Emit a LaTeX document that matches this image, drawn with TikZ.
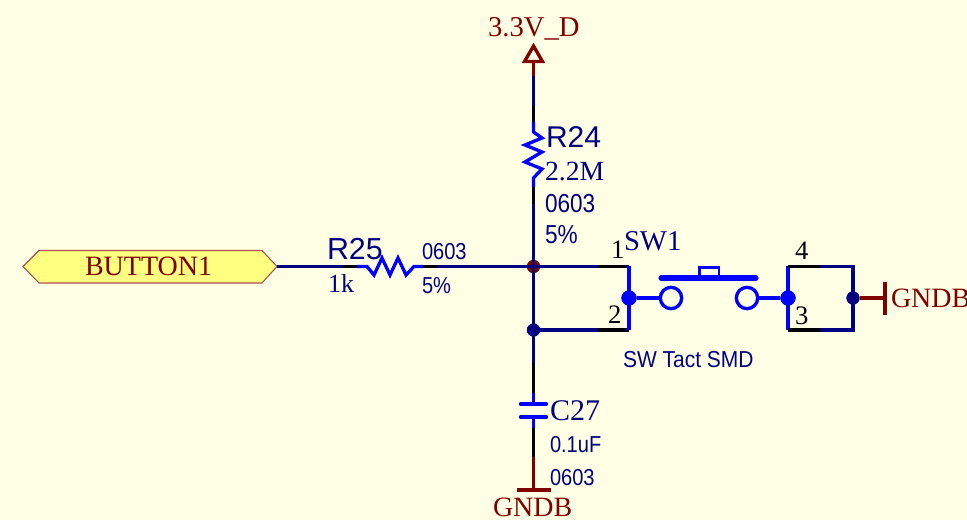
\documentclass[tikz,border=0pt]{standalone}
\usepackage{fontspec}
\setmainfont{Liberation Serif}
\setsansfont{Liberation Sans}
\newfontfamily\narrowsf[FakeStretch=0.87]{Liberation Sans}
\newfontfamily\widersf[FakeStretch=0.91]{Liberation Sans}
\definecolor{paper}{HTML}{FFFFE6}
\definecolor{navywire}{HTML}{000080}
\definecolor{bluepart}{HTML}{0000FF}
\definecolor{darkred}{HTML}{800000}
\definecolor{portfill}{HTML}{FFFF80}
\definecolor{portedge}{HTML}{B0504A}
\tikzset{
  x=0.75pt, y=-0.75pt,
  wire/.style={line width=2.5pt, draw=navywire},
  pin/.style={line width=2.5pt, draw=black},
  part/.style={line width=2.5pt, draw=bluepart, line join=miter},
  pow/.style={line width=2.5pt, draw=darkred},
  label/.style={anchor=base west, inner sep=0pt, outer sep=0pt},
  sername/.style={label, font=\fontsize{21.5pt}{24pt}\selectfont, text=navywire},
  serval/.style={label, font=\fontsize{20.8pt}{24pt}\selectfont, text=navywire},
  sfname/.style={label, font=\sffamily\fontsize{22.5pt}{24pt}\selectfont, text=navywire},
  sfbig/.style={label, font=\narrowsf\fontsize{19.5pt}{24pt}\selectfont, text=navywire},
  sfsmall/.style={label, font=\narrowsf\fontsize{17.3pt}{24pt}\selectfont, text=navywire},
  pinnum/.style={label, font=\fontsize{20pt}{24pt}\selectfont, text=black},
  powtext/.style={label, font=\fontsize{21pt}{24pt}\selectfont, text=darkred},
  jred/.style={circle, fill=darkred, inner sep=0pt, minimum size=9.8pt},
  jnavy/.style={circle, fill=navywire, inner sep=0pt, minimum size=9.8pt},
  jblue/.style={circle, fill=bluepart, inner sep=0pt, minimum size=11.4pt},
  contact/.style={circle, draw=bluepart, line width=2.5pt, fill=paper, inner sep=0pt, minimum size=16pt},
}
\begin{document}
\begin{tikzpicture}
\useasboundingbox (0,0) rectangle (967,520);
\fill[paper] (0,0) rectangle (967,520);

% wire break points
\coordinate (pwrbase) at (533.5,62);
\coordinate (v1) at (533.5,76);
\coordinate (v2) at (533.5,106);
\coordinate (v3) at (533.5,122);
\coordinate (r24a) at (533.5,132);
\coordinate (r24b) at (533.5,178);
\coordinate (v4) at (533.5,187);
\coordinate (v5) at (533.5,204);
\coordinate (v6) at (533.5,363);
\coordinate (v7) at (533.5,393);
\coordinate (c27a) at (533.5,404);
\coordinate (c27b) at (533.5,417);
\coordinate (v8) at (533.5,428);
\coordinate (v9) at (533.5,457);
\coordinate (gnda) at (533.5,490);

\coordinate (portend) at (277,266.5);
\coordinate (h1) at (343,266.5);
\coordinate (h2) at (357,266.5);
\coordinate (r25a) at (367,266.5);
\coordinate (r25b) at (414,266.5);
\coordinate (h3) at (423,266.5);
\coordinate (h4) at (437,266.5);
\coordinate (p1a) at (598,266.5);
\coordinate (p1b) at (629,266.5);
\coordinate (p2a) at (598,330);
\coordinate (p2b) at (629,330);
\coordinate (p4a) at (788,266.5);
\coordinate (p4b) at (820,266.5);
\coordinate (p4c) at (853,266.5);
\coordinate (p3a) at (788,330);
\coordinate (p3b) at (820,330);
\coordinate (p3c) at (853,330);
\coordinate (gndb) at (885,298);

% port
\draw[portedge, fill=portfill, line width=0.8pt]
  (23,266.5) -- (39,250.5) -- (262,250.5) -- (277,266.5) -- (262,283) -- (39,283) -- cycle;
\node[label, font=\fontsize{21pt}{24pt}\selectfont, text=darkred] (portlabel) at (85,276) {BUTTON1};

% junction nodes
\node[jred] (j1) at (533.5,266.5) {};
\node[jnavy] (j2) at (533.5,330) {};
\node[jblue] (j3) at (629,298) {};
\node[jblue] (j4) at (788,298) {};
\node[jnavy] (j5) at (853,298) {};

% power symbol and vertical net
\draw[pow, line join=miter] (533.5,46) -- (524.5,61.5) -- (542.5,61.5) -- cycle;
\draw[pow] (pwrbase) -- (v1);
\draw[wire] (v1) -- (v2);
\draw[pin] (v2) -- (v3);
\draw[part] (v3) -- (r24a) -- (542,138) -- (525,145) -- (542,152) -- (525,162) -- (542,169) -- (r24b) -- (v4);
\draw[pin] (v4) -- (v5);
\draw[wire] (v5) -- (v6);
\draw[pin] (v6) -- (v7);
\draw[part] (v7) -- (c27a);
\draw[part] (c27b) -- (v8);
\draw[part, line cap=round] (520.5,404) -- (546.5,404);
\draw[part, line cap=round] (520.5,417) -- (546.5,417);
\draw[pin] (v8) -- (v9);
\draw[pow] (v9) -- (gnda);
\draw[pow] (517,490) -- (551,490);

% horizontal net
\draw[wire] (portend) -- (h1);
\draw[pin] (h1) -- (h2);
\draw[part] (h2) -- (r25a) -- (374,275) -- (382,258) -- (390,275) -- (398,258) -- (406,275) -- (r25b) -- (h3);
\draw[pin] (h3) -- (h4);
\draw[wire] (h4) -- (p1a);
\draw[pin] (p1a) -- (p1b);
\draw[wire] (j2) -- (p2a);
\draw[pin] (p2a) -- (p2b);
\draw[part] (p1b) -- (p2b);

% switch
\node[contact] (c1) at (671,298) {};
\node[contact] (c2) at (747,298) {};
\draw[part] (j3) -- (c1);
\draw[part] (c2) -- (j4);
\draw[line width=3.8pt, draw=bluepart, line cap=round] (661,278) -- (756,278);
\draw[bluepart, line width=1.7pt] (699.5,278) -- (699.5,267.5) -- (719,267.5) -- (719,278);

% right side
\draw[part] (p4a) -- (p3a);
\draw[pin] (p4a) -- (p4b);
\draw[wire] (p4b) -- (p4c) -- (p3c) -- (p3b);
\draw[pin] (p3b) -- (p3a);
\draw[pow] (j5) -- (gndb);
\draw[pow] (885,282.5) -- (885,315);

% junctions over the wires
\node[jred] at (j1) {};
\draw[wire, line width=1.6pt] (533.5,258) -- (533.5,275);
\draw[wire, line width=1.6pt] (525,266.5) -- (542,266.5);
\node[jnavy] at (j2) {};
\node[jblue] at (j3) {};
\node[jblue] at (j4) {};
\node[jnavy] at (j5) {};

% text
\node[powtext, font=\fontsize{21.5pt}{24pt}\selectfont] (t33) at (488,37) {3.3V\_D};
\node[powtext] (tgnd1) at (493,516) {GNDB};
\node[powtext] (tgnd2) at (891,307) {GNDB};
\node[sfname] (r24) at (546,148) {R24};
\node[serval] (r24v) at (545,181) {2.2M};
\node[sfbig] (r24f) at (545,213) {0603};
\node[sfbig] (r24t) at (545,244) {5\%};
\node[sfname, font=\sffamily\fontsize{22.8pt}{24pt}\selectfont] (r25) at (327,260) {R25};
\node[serval, font=\fontsize{19.5pt}{24pt}\selectfont] (r25v) at (328,292) {1k};
\node[sfsmall] (r25f) at (422,260) {0603};
\node[sfsmall] (r25t) at (422,293) {5\%};
\node[sername] (sw1) at (624,251) {SW1};
\node[label, font=\widersf\fontsize{17.3pt}{24pt}\selectfont, text=navywire] (swv) at (623,367) {SW Tact SMD};
\node[pinnum] (n1) at (611,259) {1};
\node[pinnum] (n2) at (608,323) {2};
\node[pinnum] (n4) at (795,260) {4};
\node[pinnum] (n3) at (795,324) {3};
\node[sername, font=\fontsize{22.5pt}{24pt}\selectfont] (c27) at (550,420) {C27};
\node[sfsmall] (c27v) at (550,452) {0.1uF};
\node[sfsmall] (c27f) at (550,485) {0603};
\end{tikzpicture}
\end{document}
